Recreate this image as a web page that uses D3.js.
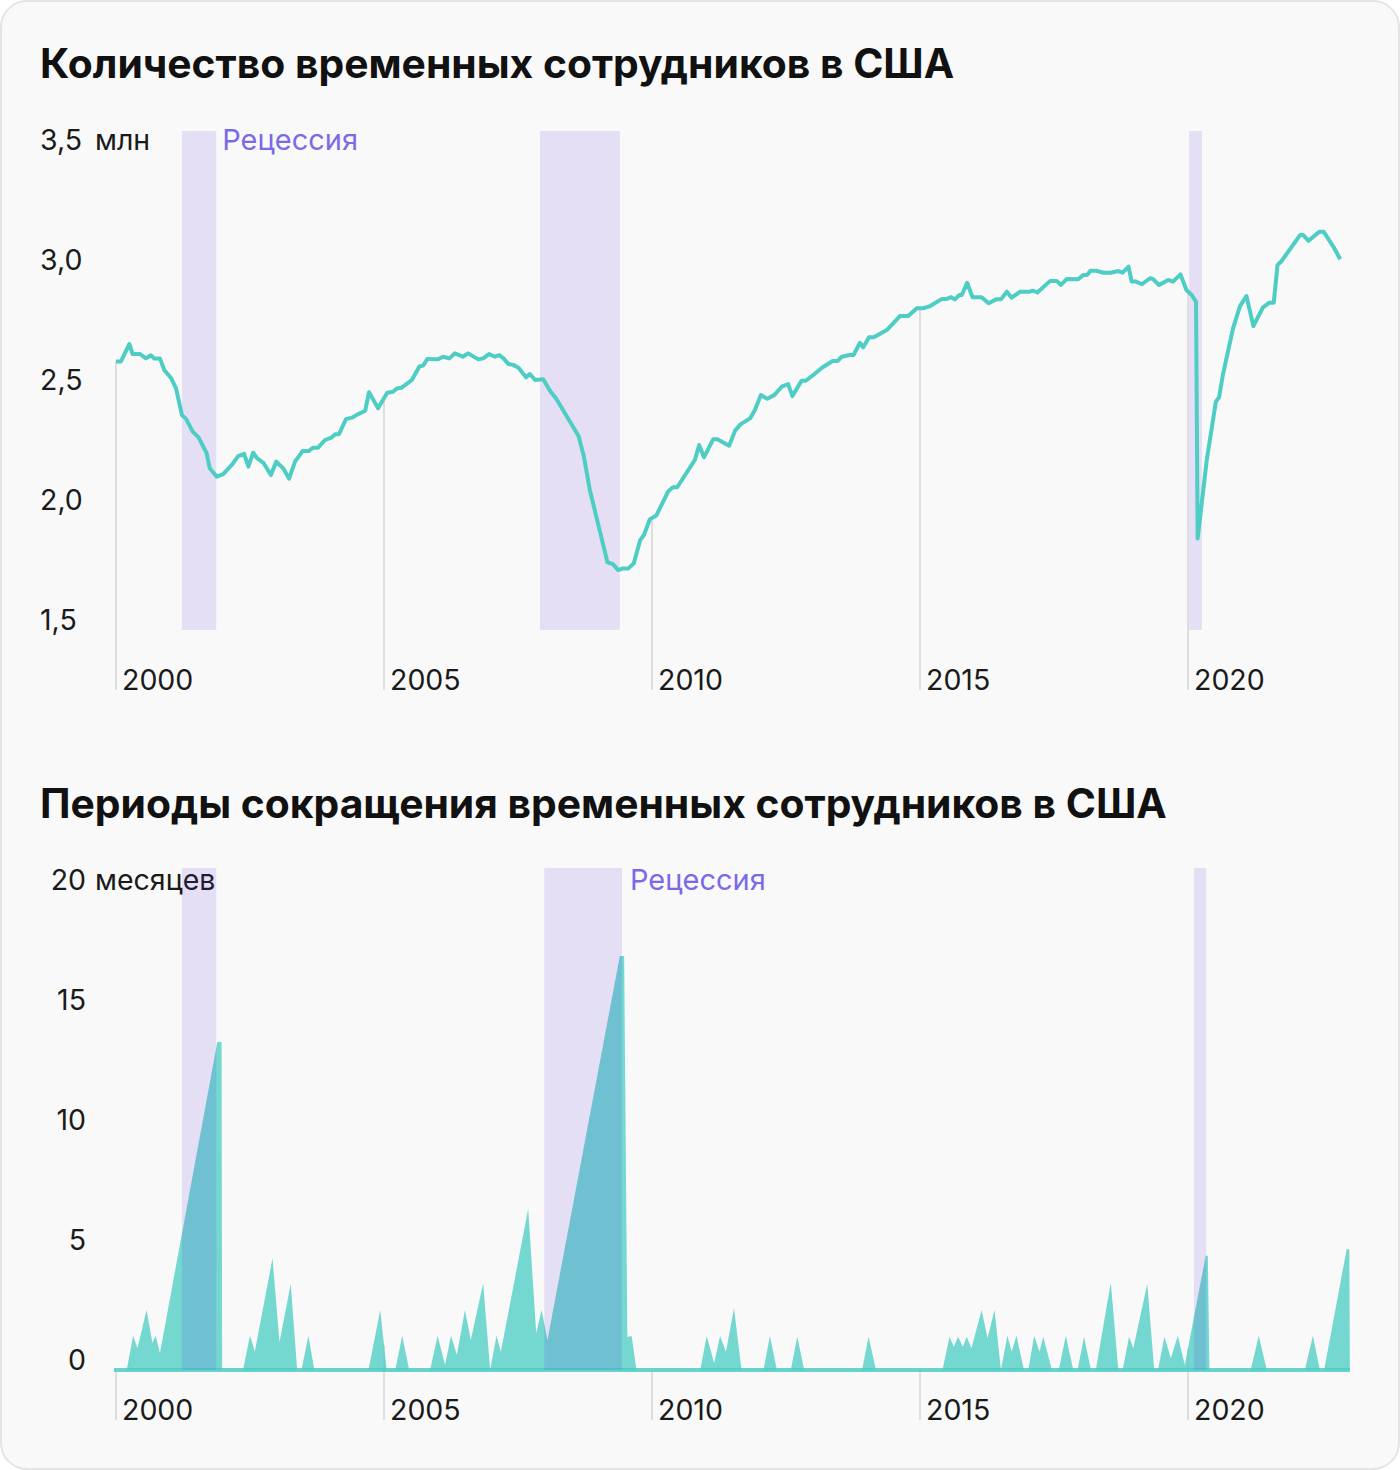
<!DOCTYPE html>
<html><head><meta charset="utf-8">
<script src="https://cdn.jsdelivr.net/npm/d3@7"></script>
<style>
html,body{margin:0;padding:0;background:#ffffff;}
svg{display:block;font-family:Inter,"Noto Sans",sans-serif;}
</style></head><body>
<svg id="c" width="1400" height="1470"></svg>
<script>
// ---------- DATA ----------
const yearTicks = [2000, 2005, 2010, 2015, 2020];
const topTicks = [3.5, 3.0, 2.5, 2.0, 1.5];
const topTickLabels = ["3,5", "3,0", "2,5", "2,0", "1,5"];
const bottomTicks = [20, 15, 10, 5, 0];
const bottomTickLabels = ["20", "15", "10", "5", "0"];
const recessionsTop = [[2001.23, 2001.87], [2007.91, 2009.40], [2020.02, 2020.26]];
const recessionsBottom = [[2001.23, 2001.87], [2007.99, 2009.44], [2020.11, 2020.34]];

// temp workers, mln (decimal year, value)
const tempDates = [2000.00,2000.09,2000.25,2000.31,2000.45,2000.56,2000.65,2000.71,2000.82,2000.90,
2001.03,2001.12,2001.23,2001.31,2001.43,2001.54,2001.69,2001.75,2001.88,2002.00,
2002.16,2002.28,2002.39,2002.47,2002.56,2002.63,2002.75,2002.89,2002.99,2003.12,
2003.23,2003.34,2003.48,2003.59,2003.68,2003.77,2003.90,2004.02,2004.09,2004.16,
2004.29,2004.40,2004.52,2004.65,2004.72,2004.89,2005.06,2005.17,2005.24,2005.33,
2005.52,2005.66,2005.73,2005.81,2005.92,2006.01,2006.10,2006.22,2006.32,2006.47,
2006.57,2006.76,2006.85,2006.96,2007.07,2007.15,2007.23,2007.32,2007.41,2007.51,
2007.65,2007.72,2007.82,2007.97,2008.10,2008.22,2008.63,2008.73,2008.84,2009.06,
2009.17,2009.27,2009.37,2009.46,2009.56,2009.66,2009.78,2009.85,2009.96,2010.08,
2010.30,2010.39,2010.47,2010.80,2010.88,2010.97,2011.14,2011.22,2011.44,2011.55,
2011.65,2011.83,2011.92,2012.03,2012.15,2012.28,2012.42,2012.54,2012.62,2012.79,
2012.87,2013.01,2013.17,2013.37,2013.46,2013.54,2013.69,2013.76,2013.88,2013.94,
2014.05,2014.14,2014.38,2014.63,2014.78,2014.94,2015.06,2015.19,2015.41,2015.50,
2015.58,2015.65,2015.73,2015.78,2015.88,2015.98,2016.15,2016.28,2016.42,2016.51,
2016.62,2016.71,2016.87,2017.05,2017.10,2017.19,2017.43,2017.55,2017.63,2017.74,
2017.95,2018.05,2018.12,2018.18,2018.28,2018.43,2018.56,2018.70,2018.78,2018.89,
2018.95,2019.03,2019.14,2019.29,2019.35,2019.46,2019.63,2019.72,2019.86,2019.97,
2020.07,2020.15,2020.18,2020.35,2020.52,2020.58,2020.65,2020.84,2020.97,2021.09,
2021.22,2021.40,2021.52,2021.60,2021.67,2021.75,2022.09,2022.15,2022.25,2022.45,
2022.53,2022.71,2022.77,2022.84];
const tempValues = [2.577,2.577,2.65,2.608,2.608,2.59,2.603,2.59,2.59,2.542,
2.507,2.465,2.354,2.337,2.285,2.261,2.195,2.132,2.097,2.108,
2.146,2.183,2.192,2.139,2.197,2.174,2.155,2.104,2.16,2.132,
2.089,2.16,2.204,2.204,2.218,2.218,2.25,2.26,2.274,2.274,
2.337,2.343,2.358,2.372,2.449,2.382,2.447,2.451,2.465,2.468,
2.5,2.556,2.56,2.588,2.586,2.586,2.597,2.59,2.611,2.597,
2.611,2.586,2.59,2.608,2.597,2.604,2.59,2.567,2.563,2.551,
2.511,2.525,2.5,2.503,2.454,2.42,2.267,2.18,2.042,1.84,
1.74,1.733,1.708,1.715,1.715,1.736,1.833,1.854,1.92,1.935,
2.035,2.053,2.053,2.167,2.229,2.178,2.253,2.253,2.226,2.289,
2.315,2.34,2.375,2.437,2.422,2.437,2.472,2.483,2.433,2.497,
2.497,2.521,2.551,2.579,2.579,2.597,2.604,2.604,2.655,2.636,
2.678,2.678,2.708,2.767,2.767,2.799,2.799,2.808,2.838,2.838,
2.845,2.836,2.854,2.854,2.905,2.845,2.845,2.82,2.836,2.836,
2.868,2.843,2.868,2.868,2.872,2.865,2.913,2.913,2.896,2.921,
2.92,2.938,2.938,2.955,2.955,2.947,2.947,2.954,2.947,2.972,
2.91,2.91,2.899,2.924,2.92,2.896,2.917,2.91,2.94,2.875,
2.854,2.826,1.84,2.167,2.41,2.428,2.521,2.715,2.808,2.85,
2.725,2.803,2.822,2.822,2.979,2.997,3.104,3.104,3.08,3.118,
3.118,3.056,3.032,3.003];

// decline periods, months (decimal year, value)
const declineDates = [2000.00,2000.20,2000.32,2000.40,2000.57,2000.68,2000.74,2000.82,2001.89,2001.97,
2001.98,2002.37,2002.50,2002.59,2002.92,2003.05,2003.26,2003.38,2003.46,2003.59,
2003.70,2004.71,2004.93,2005.05,2005.21,2005.34,2005.47,2005.86,2006.00,2006.14,
2006.25,2006.36,2006.51,2006.62,2006.85,2006.98,2007.10,2007.18,2007.69,2007.84,
2007.94,2008.05,2009.40,2009.48,2009.54,2009.62,2009.71,2010.90,2011.02,2011.16,
2011.27,2011.38,2011.53,2011.67,2012.08,2012.20,2012.33,2012.59,2012.71,2012.84,
2013.92,2014.04,2014.18,2015.42,2015.55,2015.63,2015.71,2015.80,2015.87,2015.96,
2016.15,2016.26,2016.39,2016.51,2016.63,2016.71,2016.80,2016.94,2017.02,2017.13,
2017.23,2017.30,2017.46,2017.59,2017.72,2017.86,2017.94,2018.06,2018.19,2018.28,
2018.56,2018.70,2018.78,2018.90,2018.98,2019.24,2019.37,2019.44,2019.56,2019.68,
2019.81,2019.94,2020.33,2020.37,2020.40,2021.17,2021.32,2021.47,2022.18,2022.33,
2022.46,2022.54,2022.96,2023.01,2023.02];
const declineValues = [0,0,1.37,0.87,2.4,1.08,1.37,0.68,13.12,13.12,
0,0,1.37,0.73,4.47,1.11,3.44,0,0,1.37,
0,0,2.4,0,0,1.37,0,0,1.37,0.2,
1.37,0.6,2.4,1.2,3.47,0,1.37,0.73,6.44,1.47,
2.4,1.2,16.56,16.56,1.32,1.36,0,0,1.36,0.27,
1.36,0.73,2.47,0,0,1.36,0,0,1.33,0,
0,1.33,0,0,1.33,0.93,1.33,0.93,1.33,0.87,
2.4,1.27,2.4,0,1.37,0.73,1.37,0,0,1.37,
0.73,1.33,0,0,1.37,0,0,1.33,0,0,
3.5,0,0,1.33,0.87,3.44,0,0,1.33,0.47,
1.37,0.2,4.57,4.57,0,0,1.37,0,0,1.37,
0,0,4.83,4.83,0];

// ---------- STYLE ----------
const TEAL = "#4ecdc4";
const BAND = "rgb(80,40,220)";
const BAND_OP = 0.12;
const PURPLE = "#7b6ae6";

const svg = d3.select("#c");
svg.append("rect").attr("x",1).attr("y",1).attr("width",1398).attr("height",1468)
  .attr("rx",26).attr("fill","#f9f9f9").attr("stroke","#e4e4e4").attr("stroke-width",2);

const x = d3.scaleLinear().domain([2000, 2020]).range([116, 1188]);

function interp(dates, vals, t){
  for (let i=1;i<dates.length;i++){
    if (dates[i] >= t){
      const f = (t - dates[i-1]) / (dates[i]-dates[i-1]);
      return vals[i-1] + f*(vals[i]-vals[i-1]);
    }
  }
  return vals[vals.length-1];
}

// ---------- TOP CHART ----------
const gT = svg.append("g");
gT.append("text").attr("x",40).attr("y",78).attr("font-size",40.8).attr("font-weight",700)
  .attr("fill","#111").text("Количество временных сотрудников в США");

const yT = d3.scaleLinear().domain([1.5, 3.5]).range([620, 140]);

gT.selectAll("rect.band").data(recessionsTop).join("rect").attr("class","band")
  .attr("x", d=>x(d[0])).attr("width", d=>x(d[1])-x(d[0]))
  .attr("y", yT(3.5)-9).attr("height", yT(1.5)+10-(yT(3.5)-9))
  .attr("fill", BAND).attr("fill-opacity", BAND_OP);

gT.selectAll("line.drop").data(yearTicks).join("line").attr("class","drop")
  .attr("x1", d=>x(d)).attr("x2", d=>x(d))
  .attr("y1", d=>yT(interp(tempDates, tempValues, d))).attr("y2", 690)
  .attr("stroke","#dedede").attr("stroke-width",2);

gT.selectAll("text.xt").data(yearTicks).join("text").attr("class","xt")
  .attr("x", d=>x(d)+6).attr("y", 690).attr("font-size",28.5).attr("fill","#1a1a1a").text(d=>d);

gT.selectAll("text.yt").data(topTicks).join("text").attr("class","yt")
  .attr("x", 40).attr("y", d=>yT(d)).attr("dy","0.35em")
  .attr("font-size",28.5).attr("fill","#1a1a1a").text((d,i)=>topTickLabels[i]);
gT.append("text").attr("x",95).attr("y",yT(3.5)).attr("dy","0.35em").attr("font-size",28.5)
  .attr("fill","#1a1a1a").text("млн");

gT.append("text").attr("x", x(recessionsTop[0][1])+6).attr("y", yT(3.5)).attr("dy","0.35em")
  .attr("font-size",29).attr("fill",PURPLE).text("Рецессия");

const lineGen = d3.line().x((d,i)=>x(tempDates[i])).y(d=>yT(d));
gT.append("path").attr("d", lineGen(tempValues)).attr("fill","none")
  .attr("stroke",TEAL).attr("stroke-width",4).attr("stroke-linejoin","round");

// ---------- BOTTOM CHART ----------
const gB = svg.append("g");
gB.append("text").attr("x",40).attr("y",818).attr("font-size",40.8).attr("font-weight",700)
  .attr("fill","#111").text("Периоды сокращения временных сотрудников в США");

const yB = d3.scaleLinear().domain([0, 20]).range([1370, 870]);
const yL = d3.scaleLinear().domain([0, 20]).range([1360, 880]);

gB.selectAll("text.yt").data(bottomTicks).join("text").attr("class","yt")
  .attr("x", 86).attr("y", d=>yL(d)).attr("dy","0.35em").attr("text-anchor","end")
  .attr("font-size",28.5).attr("fill","#1a1a1a").text((d,i)=>bottomTickLabels[i]);
gB.append("text").attr("x",95).attr("y",yL(20)).attr("dy","0.35em").attr("font-size",28.5)
  .attr("fill","#1a1a1a").text("месяцев");

gB.selectAll("line.drop").data(yearTicks).join("line").attr("class","drop")
  .attr("x1", d=>x(d)).attr("x2", d=>x(d))
  .attr("y1", d=>yB(interp(declineDates, declineValues, d))).attr("y2", 1420)
  .attr("stroke","#dedede").attr("stroke-width",2);

gB.selectAll("text.xt").data(yearTicks).join("text").attr("class","xt")
  .attr("x", d=>x(d)+6).attr("y", 1420).attr("font-size",28.5).attr("fill","#1a1a1a").text(d=>d);

const areaGen = d3.area().x((d,i)=>x(declineDates[i])).y0(yB(0)).y1(d=>yB(d));
gB.append("path").attr("d", areaGen(declineValues)).attr("fill",TEAL).attr("fill-opacity",0.78);
gB.append("line").attr("x1", x(declineDates[0])-2).attr("x2", x(declineDates[declineDates.length-1]))
  .attr("y1", yB(0)).attr("y2", yB(0)).attr("stroke",TEAL).attr("stroke-opacity",0.85).attr("stroke-width",4);

gB.selectAll("rect.band").data(recessionsBottom).join("rect").attr("class","band")
  .attr("x", d=>x(d[0])).attr("width", d=>x(d[1])-x(d[0]))
  .attr("y", yB(20)-2).attr("height", yB(0)-(yB(20)-2))
  .attr("fill", BAND).attr("fill-opacity", BAND_OP);

gB.append("text").attr("x", x(recessionsBottom[1][1])+8).attr("y", yL(20)).attr("dy","0.35em")
  .attr("font-size",29).attr("fill",PURPLE).text("Рецессия");
</script>
</body></html>
